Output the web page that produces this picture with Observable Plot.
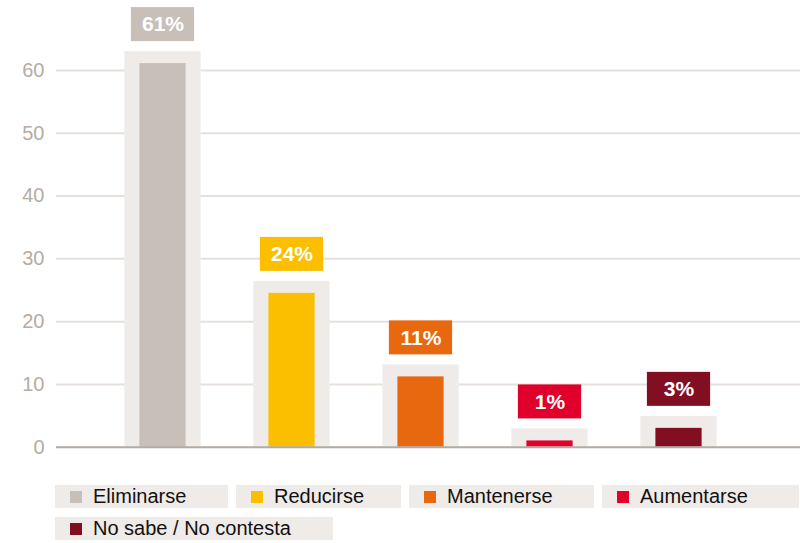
<!DOCTYPE html>
<html>
<head>
<meta charset="utf-8">
<script src="https://cdn.jsdelivr.net/npm/d3@7"></script>
<script src="https://cdn.jsdelivr.net/npm/@observablehq/plot@0.6"></script>
<style>
  html, body { margin: 0; padding: 0; background: #fff; overflow: hidden; }
  body { width: 800px; height: 543px; font-family: "Liberation Sans", Arial, Helvetica, sans-serif; }
  #chart svg { display: block; }
  .legend { position: absolute; left: 55px; top: 485px; }
  .row { display: flex; flex-wrap: nowrap; gap: 8px; margin-bottom: 9px; }
  .item { display: flex; align-items: center; height: 23px; background: #efebe8; padding: 0 0 0 15px; font-size: 20px; color: #111; white-space: nowrap; box-sizing: border-box; }
  .sw { width: 12px; height: 12px; margin-right: 11px; flex: none; }
</style>
</head>
<body>
<div id="chart"></div>
<div class="legend" id="legend"></div>
<script>
const categories = ["Eliminarse", "Reducirse", "Mantenerse", "Aumentarse", "No sabe / No contesta"];
const values = [61.1, 24.5, 11.2, 1, 3];
const labels = ["61%", "24%", "11%", "1%", "3%"];
const colors = ["#c8bfb9", "#fbbf00", "#e8680f", "#e0002b", "#820e22"];
const yTicks = [0, 10, 20, 30, 40, 50, 60];
const legendRows = [[0, 1, 2, 3], [4]];
const legendWidths = [173, 165, 185, 197, 278];

const data = categories.map((c, i) => ({cat: c, value: values[i], label: labels[i]}));

const chart = Plot.plot({
  width: 800,
  height: 470,
  marginLeft: 56,
  marginRight: 0,
  marginTop: 0,
  marginBottom: 20,
  style: {fontFamily: "Liberation Sans, Arial, Helvetica, sans-serif", color: "#b5aca5", background: "#fff"},
  x: {domain: categories, range: [96.1, 745.1], padding: 0, axis: null},
  y: {domain: [0, 60], range: [446.7, 70], axis: null},
  color: {domain: categories, range: colors},
  marks: [
    Plot.ruleY(yTicks.filter(d => d > 0), {stroke: "#e5e0dc", strokeWidth: 2}),
    Plot.axisY(yTicks, {tickSize: 0, tickPadding: 12, fontSize: 20, fill: "#b5aca5", label: null}),
    Plot.barY(data, {x: "cat", y: "value", fill: "#efebe8", insetTop: -12, insetLeft: 26.4, insetRight: 26.4}),
    Plot.barY(data, {x: "cat", y: "value", fill: "cat", insetLeft: 41.4, insetRight: 41.4}),
    Plot.ruleY([0], {stroke: "#b3aaa2", strokeWidth: 2}),
    Plot.barY(data, {x: "cat", y1: "value", y2: "value", fill: "cat", insetTop: -56, insetBottom: 22, insetLeft: 32.9, insetRight: 32.9}),
    Plot.text(data, {x: "cat", y: "value", text: "label", dy: -39, fill: "white", fontWeight: "bold", fontSize: 21})
  ]
});
document.getElementById("chart").appendChild(chart);

const legend = document.getElementById("legend");
legendRows.forEach(row => {
  const r = document.createElement("div");
  r.className = "row";
  row.forEach(i => {
    const it = document.createElement("div");
    it.className = "item";
    it.style.width = legendWidths[i] + "px";
    const sw = document.createElement("span");
    sw.className = "sw";
    sw.style.background = colors[i];
    const tx = document.createElement("span");
    tx.textContent = categories[i];
    it.appendChild(sw);
    it.appendChild(tx);
    r.appendChild(it);
  });
  legend.appendChild(r);
});
</script>
</body>
</html>
